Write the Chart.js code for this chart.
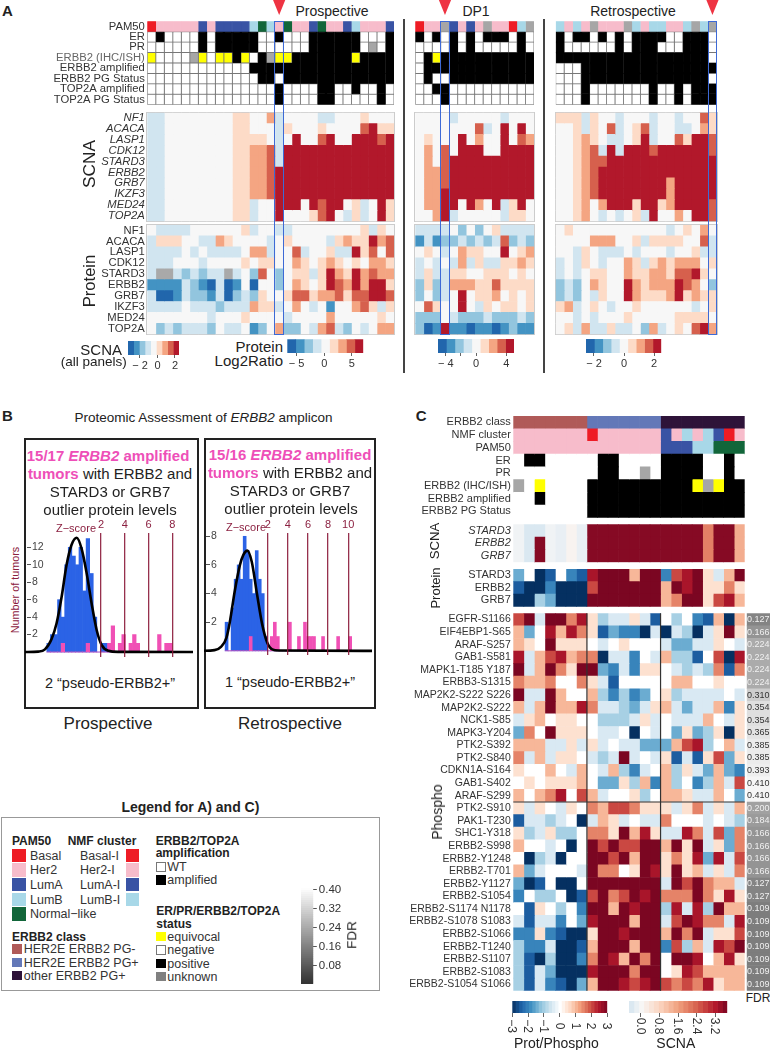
<!DOCTYPE html>
<html>
<head>
<meta charset="utf-8">
<title>ERBB2 proteogenomic figure</title>
<script src="https://cdn.jsdelivr.net/npm/chart.js@4/dist/chart.umd.js"></script>
<style>
  html, body { margin: 0; padding: 0; background: #fff; }
  #page { position: relative; width: 770px; height: 1050px; overflow: hidden; font-family: "Liberation Sans", Arial, sans-serif; color: #222; }
  #page canvas { position: absolute; }
  .t { position: absolute; white-space: nowrap; line-height: 1; }
  .r { position: absolute; box-sizing: border-box; }
  .pk { color: #ee4fb8; font-weight: bold; }
</style>
</head>
<body>
<div id="page"></div>
<script>
// ---------- row and column names ----------
const annotLabels = ["PAM50", "ER", "PR", "ERBB2 (IHC/ISH)", "ERBB2 amplified", "ERBB2 PG Status", "TOP2A amplified", "TOP2A PG Status"];
const scnaGenes = ["NF1", "ACACA", "LASP1", "CDK12", "STARD3", "ERBB2", "GRB7", "IKZF3", "MED24", "TOP2A"];
const annotLabelsC = ["ERBB2 class", "NMF cluster", "PAM50", "ER", "PR", "ERBB2 (IHC/ISH)", "ERBB2 amplified", "ERBB2 PG Status"];
const ampliconGenes = ["STARD3", "ERBB2", "GRB7"];
const phosphoSites = ["EGFR-S1166", "EIF4EBP1-S65", "ARAF-S257", "GAB1-S581", "MAPK1-T185 Y187", "ERBB3-S1315", "MAP2K2-S222 S226", "MAP2K2-S222", "NCK1-S85", "MAPK3-Y204", "PTK2-S392", "PTK2-S840", "CDKN1A-S164", "GAB1-S402", "ARAF-S299", "PTK2-S910", "PAK1-T230", "SHC1-Y318", "ERBB2-S998", "ERBB2-Y1248", "ERBB2-T701", "ERBB2-Y1127", "ERBB2-S1054", "ERBB2-S1174 N1178", "ERBB2-S1078 S1083", "ERBB2-S1066", "ERBB2-T1240", "ERBB2-S1107", "ERBB2-S1083", "ERBB2-S1054 S1066"];

// ---------- panel A, annotation tracks ----------
// PAM50 codes: 0 Basal, 1 Her2, 2 LumA, 3 LumB, 4 Normal-like, 5 unknown
// status codes: 0 negative, 1 positive, 2 equivocal, 3 unknown
const annotPro = [
  [0,1,1,1,1,1,2,1,2,2,2,2,3,4,3,1,4,1,1,2,4,1,1,2,3,1,1,1,2],
  [0,1,0,0,0,0,1,0,1,1,1,1,1,0,0,1,0,0,0,1,1,1,1,1,1,0,0,0,1],
  [0,0,0,0,0,0,1,0,1,1,1,1,1,0,0,0,0,0,0,1,1,1,1,1,1,0,3,0,1],
  [2,0,0,0,0,3,2,0,2,2,1,2,0,1,3,2,2,1,1,1,1,1,1,1,2,1,1,1,1],
  [0,0,0,0,0,0,0,0,0,0,0,0,1,1,1,1,1,1,1,1,1,1,1,1,1,1,1,1,1],
  [0,0,0,0,0,0,0,0,0,0,0,0,0,1,1,0,1,1,1,1,1,1,1,1,1,1,1,1,1],
  [0,0,0,0,0,0,0,0,0,0,0,0,0,0,0,1,0,0,0,0,1,1,0,0,1,0,0,1,0],
  [0,0,0,0,0,0,0,0,0,0,0,0,0,0,0,1,0,0,0,0,1,1,0,0,0,0,0,1,0]
];
const annotDp = [
  [0,1,1,5,2,1,2,1,5,1,1,0,3,5],
  [1,0,1,0,1,0,1,0,1,1,1,0,1,0],
  [0,0,0,0,1,0,1,0,0,0,0,0,1,0],
  [0,1,2,1,1,1,1,1,1,1,1,1,1,1],
  [0,1,1,1,1,1,1,1,1,1,1,1,1,1],
  [0,1,0,0,1,1,1,1,1,1,1,1,1,1],
  [0,0,1,1,0,0,0,0,0,0,0,0,0,0],
  [0,0,0,1,0,0,0,0,0,0,0,0,0,0]
];
const annotRe = [
  [3,1,3,1,5,1,1,1,5,3,1,3,3,1,1,3,5,3,5],
  [1,0,1,1,0,1,0,1,0,1,1,1,1,0,0,1,1,1,0],
  [1,0,0,0,0,0,0,1,0,1,1,1,0,0,0,1,1,1,0],
  [1,1,1,1,1,1,1,1,1,1,1,1,1,1,1,1,1,1,0],
  [0,0,0,1,1,1,1,1,1,1,1,1,1,1,1,1,1,1,1],
  [0,0,0,1,1,1,1,1,1,1,1,1,1,1,1,1,1,1,0],
  [0,0,0,1,0,0,0,0,0,0,0,1,0,0,1,0,1,1,1],
  [0,0,0,1,0,0,0,0,0,0,0,1,0,0,1,0,1,1,1]
];

// ---------- panel A, SCNA bins (-4..4) ----------
const scnaPro = [
  [-1,-1,0,0,0,0,0,0,0,0,1,1,0,0,2,-1,0,0,0,0,-1,-1,0,0,0,1,0,0,0],
  [-1,-1,0,0,0,0,0,0,0,0,1,1,0,0,0,-1,1,0,0,0,1,0,0,0,0,3,4,1,1],
  [-1,-1,0,0,0,0,0,0,0,0,1,1,1,1,0,-1,0,4,0,0,3,4,0,0,4,4,4,3,4],
  [-1,-1,0,0,0,0,0,0,0,0,1,1,2,2,3,-1,4,4,4,4,4,4,4,4,4,4,4,4,4],
  [-1,-1,0,0,0,0,0,0,0,0,1,1,2,2,3,-1,4,4,4,4,4,4,4,4,4,4,4,4,4],
  [-1,-1,0,0,0,0,0,0,0,0,1,1,2,2,3,4,4,4,4,4,4,4,4,4,4,4,4,4,4],
  [-1,-1,0,0,0,0,0,0,0,0,1,1,2,2,3,4,4,4,4,4,4,4,4,4,4,4,4,4,4],
  [-1,-1,0,0,0,0,0,0,0,0,1,1,2,2,3,4,4,4,4,4,4,4,4,4,4,4,4,4,4],
  [-1,-1,0,0,0,0,0,0,0,0,1,1,-1,0,0,4,4,4,0,4,3,4,4,0,1,-1,0,4,1],
  [-1,-1,0,0,0,0,0,0,0,0,1,1,-1,0,0,4,0,0,0,1,3,4,0,-1,1,-1,0,4,1]
];
const scnaDp = [
  [0,0,0,0,-1,0,0,0,0,0,-1,0,0,0],
  [0,0,0,0,0,0,0,3,-1,0,4,0,4,0],
  [0,1,0,0,0,4,0,2,0,0,4,0,3,2],
  [0,2,0,3,0,4,4,4,0,0,4,4,4,4],
  [0,2,0,3,4,4,4,4,4,4,4,4,4,4],
  [0,2,2,3,4,4,4,4,4,4,4,4,4,4],
  [0,2,2,3,4,4,4,4,4,4,4,4,4,4],
  [0,2,2,4,4,4,4,4,4,4,4,4,4,4],
  [0,2,2,4,4,0,4,2,0,4,-1,1,4,0],
  [0,0,2,4,-1,0,0,0,0,0,-1,1,1,0]
];
const scnaRe = [
  [1,1,1,-1,1,0,0,-1,0,0,0,-1,0,0,-1,0,0,3,1],
  [0,0,1,-1,1,0,3,-1,0,1,3,-1,0,0,-1,-1,0,2,1],
  [0,0,1,2,1,0,-1,-1,0,1,4,-1,0,0,3,1,4,4,3],
  [0,0,1,2,3,-1,4,-1,4,4,4,3,4,4,4,4,4,4,3],
  [0,0,1,2,3,3,4,4,4,4,4,4,4,4,4,4,4,4,4],
  [0,0,1,2,3,4,4,4,4,4,4,4,4,4,4,4,4,4,4],
  [0,0,1,2,3,4,4,4,4,4,4,4,4,2,4,4,4,4,4],
  [0,0,1,2,3,4,4,4,4,4,4,4,4,2,4,4,4,4,4],
  [0,0,1,2,0,2,4,4,4,1,4,4,1,2,4,4,4,4,3],
  [0,0,1,2,0,-1,0,-1,0,1,-1,4,0,0,2,0,4,4,3]
];

// ---------- panel A, protein bins (-4..4, 9 = missing) ----------
const protPro = [
  [0,-1,-1,-1,-1,0,0,0,0,0,0,1,-1,0,0,-1,-1,0,0,0,0,0,0,0,0,1,-1,1,0],
  [-1,1,1,1,0,0,-1,-1,2,1,0,0,0,0,-1,0,1,0,0,0,0,-1,1,2,1,1,4,2,3],
  [-1,-1,-1,-1,0,-1,0,-1,-1,-1,-1,0,2,2,-1,0,0,3,-1,0,0,1,-1,-1,4,1,3,0,3],
  [-1,-1,-1,0,0,0,-1,0,0,0,0,1,0,1,1,0,0,2,1,0,1,2,1,0,1,0,2,2,1],
  [-1,9,9,-1,-2,-1,-2,-1,-1,9,-1,0,-2,3,0,-2,0,1,1,-1,1,4,2,1,4,2,3,2,2],
  [-3,-3,-3,-3,-1,-2,-3,-4,-1,-4,-3,0,-4,0,0,-2,0,2,1,0,1,4,3,2,4,2,4,4,1],
  [-1,-4,-4,-3,-1,-2,-2,-3,-1,-4,-2,-1,-2,1,0,0,1,3,3,1,2,2,3,1,3,3,4,4,3],
  [-1,-1,-1,-1,0,-1,-1,-1,-2,-1,-1,-1,2,1,1,-1,0,2,0,-1,0,-3,0,0,2,3,1,-1,1],
  [0,0,0,0,0,0,0,-1,0,0,0,1,0,0,0,0,-1,0,0,0,0,2,0,0,0,0,0,1,0],
  [0,-2,-1,-2,-1,-1,-1,-2,0,-1,-1,0,-3,-2,0,2,-2,-2,0,-1,2,3,-1,-2,0,-1,0,2,2]
];
const protDp = [
  [-1,-1,-1,-1,0,-2,0,-2,0,1,-1,-1,-1,-1],
  [-3,-1,-3,-2,-2,-1,-2,-1,-2,-1,3,-2,-1,-2],
  [0,1,0,-1,0,2,1,1,0,0,4,0,1,2],
  [-1,0,-1,0,-1,2,-1,1,-1,-1,1,1,2,1],
  [-1,1,-1,-1,1,1,0,0,1,1,1,0,1,0],
  [-2,1,-2,-1,2,2,2,1,1,3,1,1,1,1],
  [-2,0,-2,-1,0,4,0,1,1,2,0,1,0,1],
  [0,3,1,0,0,4,0,-1,1,0,1,1,0,1],
  [-2,-2,-2,0,-1,-2,-2,-2,-1,-2,-2,-2,-1,-2],
  [-2,-4,-3,4,-3,-3,-4,-3,-3,-4,-3,-2,-3,-3]
];
const protRe = [
  [0,1,0,0,0,0,0,0,0,0,0,0,0,-1,0,1,0,2,0],
  [0,0,0,0,2,2,2,0,0,1,-1,1,1,1,1,0,0,3,-1],
  [0,0,-1,1,0,-1,-1,-1,0,-1,0,0,0,-1,0,0,1,-1,-1],
  [-1,0,-1,1,0,-1,0,0,2,1,-1,1,2,1,2,2,2,0,1],
  [-1,0,-1,0,1,1,0,0,2,1,1,2,2,1,3,3,4,1,0],
  [-2,-1,-2,0,2,1,0,0,4,2,1,2,2,2,4,3,2,0,-2],
  [-2,-1,-2,0,-1,1,0,0,4,2,1,1,1,2,4,1,2,1,1],
  [1,2,-1,0,1,0,-1,0,0,1,0,0,0,0,0,0,-1,0,1],
  [0,0,-1,0,-1,0,0,0,1,0,0,0,0,0,1,1,1,1,0],
  [0,1,-1,2,-1,-1,1,-1,-1,0,-2,2,-1,0,1,0,3,4,2]
];

// ---------- panel B, histogram counts per 0.3 z-score bin ----------
const proZBins = [-2.4,-2.1,-1.8,-1.5,-1.2,-0.9,-0.6,-0.3,0,0.3,0.6,0.9,1.2,1.5,1.8,2.1,2.4,2.7,3,3.3,3.6,3.9,4.2,4.5,4.8,5.1,5.4,5.7,6,6.3,6.6,6.9,7.2,7.5,7.8];
const proBlue = [1,2,2,6,4,10,12,11,10,12,7,13,9,4,0,1,1,0,0,0,0,0,0,0,0,0,0,0,0,0,0,0,0,0,0];
const proPink = [0,0,0,0,1,0,0,0,0,0,0,1,0,0,0,0,0,1,3,0,1,2,0,1,2,1,0,0,0,0,0,2,0,1,1];
const proCurveZ = [-4.4,-3.27,-2.71,-2.15,-1.73,-1.31,-0.89,-0.47,-0.04,0.38,0.8,1.22,1.64,2.06,2.62,3.46,9.76];
const proCurveY = [0,0.05,0.3,1.5,3.3,6.3,10,12.3,13.1,11.8,9,5.5,2.5,0.8,0.15,0.02,0];
const reZBins = [-2.1,-1.8,-1.5,-1.2,-0.9,-0.6,-0.3,0,0.3,0.6,0.9,1.2,1.5,1.8,2.1,2.4,2.7,3,3.3,3.6,3.9,4.2,4.5,4.8,5.1,5.4,5.7,6,6.3,6.6,6.9,7.2,7.5,7.8,8.1,8.4,8.7,9,9.3,9.6,9.9,10.2];
const reBlue = [2,0,3,5,6,5,8,7,5,4,7,5,4,1,0,0,0,0,0,0,0,0,0,0,0,0,0,0,0,0,0,0,0,0,0,0,0,0,0,0,0,0];
const rePink = [0,0,0,0,0,0,0,0,1,0,0,0,0,0,0,1,2,1,0,0,0,2,0,0,1,0,2,1,1,1,0,0,1,0,0,0,0,1,0,0,0,1];
const reCurveZ = [-4.6,-3.3,-2.63,-2.12,-1.78,-1.28,-0.77,-0.43,-0.03,0.41,0.92,1.43,1.93,2.44,3.11,12.4];
const reCurveY = [0,0.05,0.3,0.9,2,4.2,6,6.7,7,6.2,4,1.9,0.6,0.1,0.02,0];

// ---------- panel C, annotation tracks ----------
// class codes: 0 HER2E PG-, 1 HER2E PG+, 2 other PG+
const annotC = [
  [0,0,0,0,0,0,0,1,1,1,1,1,1,1,2,2,2,2,2,2,2,2],
  [1,1,1,1,1,1,1,0,1,1,1,1,1,1,2,1,3,1,3,2,0,1],
  [1,1,1,1,1,1,1,1,1,1,1,1,1,1,2,2,2,3,3,4,4,4],
  [0,1,1,0,0,0,0,0,1,1,0,0,0,0,1,1,1,1,0,0,1,0],
  [0,0,0,0,0,0,0,0,1,1,0,0,3,0,1,1,1,1,0,0,1,0],
  [3,0,2,0,0,0,0,1,1,1,1,1,1,1,1,1,1,2,3,2,1,1],
  [0,0,1,0,0,0,0,1,1,1,1,1,1,1,1,1,1,1,1,1,1,1],
  [0,0,0,0,0,0,0,1,1,1,1,1,1,1,1,1,1,1,1,1,1,1]
];
const scnaC = [
  [-0.1,-0.4,-0.4,-0.1,-0.2,0.1,-0.2,3.6,3.6,3.6,3.6,3.6,3.6,3.6,3.6,3.6,3.6,3.6,2,3.6,3.6,1.4],
  [-0.1,-0.4,3.6,-0.1,-0.2,0.1,-0.2,3.6,3.6,3.6,3.6,3.6,3.6,3.6,3.6,3.6,3.6,3.6,2,3.6,3.6,1.4],
  [-0.1,-0.4,3.6,-0.1,-0.2,0.1,-0.2,3.6,3.6,3.6,3.6,3.6,3.6,3.6,3.6,3.6,3.6,3.6,2,3.6,3.6,1.4]
];
// half-unit levels: -6 is -3, 6 is +3
const protC = [
  [-3,0,-6,-5,0,-4,-5,5,6,6,6,2,6,6,-4,4,5,6,1,-1,2,6],
  [-5,-6,-6,-4,-6,-6,-6,4,6,6,6,6,6,6,2,6,5,6,1,1,3,1],
  [-6,-6,-2,-3,-6,-6,-6,6,6,6,6,6,6,6,2,3,6,6,1,4,5,2]
];
const phosphoC = [
  [4,6,-1,6,6,3,5,1,-2,-1,-1,1,-1,-5,0,-2,0,-4,-5,2,-6,2],
  [2,-3,0,5,2,5,3,1,-5,-3,-4,-4,-6,-1,-6,-1,-2,-6,-1,1,6,1],
  [2,1,0,6,1,1,1,0,-1,0,1,0,0,0,-1,-3,-3,-1,-1,1,0,-1],
  [5,-1,2,4,5,2,3,3,-6,-1,-1,-4,0,-1,2,-2,-2,-5,0,4,-6,5],
  [6,-1,2,6,3,1,6,6,-3,-4,-1,-4,1,1,0,-1,-2,-1,-2,3,-5,3],
  [3,2,2,3,0,0,3,1,-1,-5,0,0,0,0,0,2,2,0,0,1,0,0],
  [6,-1,-1,6,2,0,0,2,-2,-4,-2,-4,-3,0,1,-2,-1,-1,-1,-1,0,-1],
  [2,-1,2,6,2,2,5,3,-1,-1,-2,-3,-1,1,2,-1,-3,-1,-1,2,-4,1],
  [-1,1,2,0,1,1,0,0,-2,-2,-2,-1,1,-1,0,-1,-1,-1,2,0,-1,1],
  [-3,3,0,6,1,1,1,0,-1,-1,0,-6,0,-1,0,-3,1,-3,-2,1,-6,1],
  [2,2,2,-1,-1,1,-1,1,-1,0,-1,-1,-3,-3,-3,2,4,5,-2,0,2,-1],
  [3,-1,2,-1,1,1,0,-1,-2,-1,6,-1,0,-1,1,-5,-1,-5,1,4,-3,1],
  [1,0,0,2,0,-1,2,0,-1,2,-2,-4,-1,0,2,-2,1,-1,-3,2,-3,-4],
  [0,1,0,1,1,1,2,0,-3,-3,1,-2,2,-4,2,-2,0,-4,-2,2,-1,4],
  [2,0,2,3,5,0,4,2,-1,0,0,1,-2,0,2,2,1,-1,-1,2,0,-3],
  [1,-1,1,0,-1,1,0,3,2,4,4,3,1,1,1,-1,1,3,-1,1,-1,2],
  [-5,-1,-1,-2,-1,0,-6,-1,2,1,-1,0,-1,-1,3,0,0,0,-1,0,-1,-2],
  [1,-2,-1,1,-2,-2,0,3,3,1,6,2,5,1,-1,-1,5,3,-1,4,-3,3],
  [2,0,0,-1,0,-6,0,6,4,6,4,4,6,6,2,6,1,6,-1,1,-3,3],
  [0,-6,-2,-1,-6,0,0,6,6,4,6,2,6,6,1,3,1,5,-3,5,-1,4],
  [2,-3,-1,0,0,0,-1,6,3,3,0,1,6,5,1,6,1,2,-1,1,-1,3],
  [-3,-6,-5,0,-6,-6,0,6,6,6,6,6,6,6,-1,6,4,6,3,2,2,-1],
  [-4,0,-2,-2,0,-6,-5,4,6,3,4,6,5,6,3,3,3,6,3,1,5,1],
  [0,-5,1,0,-2,0,-4,6,6,2,6,5,6,6,-2,5,-1,5,-2,6,2,2],
  [-1,-5,-1,-1,-4,0,-3,5,6,6,6,2,6,6,-1,4,6,5,3,3,-1,5],
  [-4,-4,1,-4,-5,-6,-6,1,6,6,5,6,6,6,2,6,3,6,-1,1,1,4],
  [-2,-4,-4,-1,-6,-6,-5,2,6,6,6,2,6,6,-4,4,-2,2,-1,5,4,6],
  [-2,-5,-6,-2,-6,-6,-4,3,6,5,2,6,3,6,0,6,6,5,0,2,5,1],
  [-2,-5,-1,-3,-6,-6,-6,5,6,6,6,3,6,6,0,1,5,4,2,2,2,2],
  [-2,-5,-1,-4,-5,-6,-3,2,6,6,5,4,5,6,4,3,4,3,5,1,2,2]
];
const fdrValues = [0.127,0.166,0.224,0.224,0.224,0.224,0.310,0.354,0.354,0.365,0.385,0.385,0.393,0.410,0.410,0.200,0.184,0.166,0.166,0.166,0.166,0.127,0.127,0.109,0.109,0.109,0.109,0.109,0.109,0.109];

// ---------- tick labels ----------
const scnaBarTicks = [-2, 0, 2];
const proteinBarTicks = [-5, 0, 5];
const dpBarTicks = [-4, -2, 0, 4];
const reBarTicks = [-2, 0, 2];
const protScaleTicks = [-3, -2, -1, 0, 1, 2, 3];
const scnaScaleTicks = [0, 0.8, 1.6, 2.4, 3.2];
const fdrScaleTicks = [0.08, 0.16, 0.24, 0.32, 0.40];

// ---------- colours ----------
const binColors = { "-4": "#2166ac", "-3": "#4393c3", "-2": "#92c5de", "-1": "#d1e5f0", "0": "#f7f7f7", "1": "#fddbc7", "2": "#f4a582", "3": "#d6604d", "4": "#b2182b", "9": "#a9a9a9" };
const binOrder = [-4, -3, -2, -1, 0, 1, 2, 3, 4];
const pamColors = ["#ee1c25", "#f7bccb", "#3953a4", "#a8d8e8", "#12663a", "#a6a6a6"];
const statusColors = ["#ffffff", "#000000", "#ffff00", "#a6a6a6"];
const classColors = ["#b05a58", "#6378b8", "#2e1339"];
const protStops = [[-3, "#053061"], [-2.4, "#2166ac"], [-1.8, "#4393c3"], [-1.2, "#92c5de"], [-0.6, "#d1e5f0"], [0, "#ffffff"], [0.6, "#fddbc7"], [1.2, "#f4a582"], [1.8, "#d6604d"], [2.4, "#b2182b"], [3, "#7b0622"]];
const scnaStops = [[-0.5, "#d3e4ef"], [0, "#f7f7f7"], [0.8, "#fbd5c0"], [1.6, "#f0a07e"], [2.4, "#d6604d"], [3.2, "#b2182b"], [3.7, "#7b0622"]];
const DARK_RED = "#8b2040";
const PINK = "#f050b5";
const BLUE = "#2b63e6";
const HILITE = "#3d6ad6";

// read a colour out of a stop table for a value
function ramp(stops, v) {
  if (v <= stops[0][0]) return stops[0][1];
  for (let i = 1; i < stops.length; i++) {
    if (v <= stops[i][0]) {
      const t = (v - stops[i - 1][0]) / (stops[i][0] - stops[i - 1][0]);
      const a = stops[i - 1][1], b = stops[i][1];
      const ch = (s, k) => parseInt(s.substr(1 + k * 2, 2), 16);
      const c = [0, 1, 2].map((k) => Math.round(ch(a, k) + (ch(b, k) - ch(a, k)) * t));
      return "rgb(" + c.join(",") + ")";
    }
  }
  return stops[stops.length - 1][1];
}
function fdrGrey(v) {
  const g = Math.round(125 + ((v - 0.109) * 120) / 0.301);
  return "rgb(" + g + "," + g + "," + g + ")";
}

// ---------- page helpers ----------
const page = document.getElementById("page");
Chart.defaults.font.family = '"Liberation Sans", Arial, sans-serif';
Chart.defaults.animation = false;
Chart.defaults.responsive = false;
Chart.defaults.events = [];
Chart.defaults.plugins.legend.display = false;
Chart.defaults.plugins.tooltip.enabled = false;

// keep tick labels from shrinking the plot area
function noPad(s) {
  s.paddingTop = s.paddingBottom = s.paddingLeft = s.paddingRight = 0;
}

function text(html, x, y, o) {
  o = o || {};
  const el = document.createElement("div");
  el.className = "t";
  el.innerHTML = html;
  el.style.left = x + "px";
  el.style.top = y + "px";
  el.style.fontSize = (o.size || 12) + "px";
  if (o.bold) el.style.fontWeight = "bold";
  if (o.italic) el.style.fontStyle = "italic";
  if (o.color) el.style.color = o.color;
  const tx = o.align === "center" ? "-50%" : o.align === "right" ? "-100%" : "0";
  el.style.transform = "translate(" + tx + ",-50%)" + (o.rotate ? " rotate(" + o.rotate + "deg)" : "");
  page.appendChild(el);
}
function box(x, y, w, h, css) {
  const el = document.createElement("div");
  el.className = "r";
  el.style.left = x + "px";
  el.style.top = y + "px";
  el.style.width = w + "px";
  el.style.height = h + "px";
  el.style.cssText += css || "";
  page.appendChild(el);
  return el;
}
function newCanvas(left, top, w, h) {
  const c = document.createElement("canvas");
  c.width = w;
  c.height = h;
  c.style.left = left + "px";
  c.style.top = top + "px";
  page.appendChild(c);
  return c;
}

// a heatmap is horizontal floating bars, one dataset per column
function heatmap(o) {
  const labelW = o.labelW || 0;
  const left = Math.floor(o.x - labelW), top = Math.floor(o.y);
  const cw = Math.ceil(o.x + o.w) - left, ch = Math.ceil(o.y + o.h) - top;
  const ncol = o.rows[0].length;
  const datasets = [];
  for (let c = 0; c < ncol; c++) {
    const fills = o.rows.map((r, i) => o.color(r[c], i));
    datasets.push({
      data: o.rows.map(() => [c, c + 1]),
      backgroundColor: fills,
      borderColor: o.border ? o.rows.map((r, i) => o.border(r[c], i, fills[i])) : undefined,
      borderWidth: o.border ? 0.8 : 0,
      borderSkipped: false,
      barPercentage: 1,
      categoryPercentage: 1,
      grouped: false
    });
  }
  return new Chart(newCanvas(left, top, cw, ch), {
    type: "bar",
    data: { labels: o.labels, datasets: datasets },
    plugins: o.plugins || [],
    options: {
      indexAxis: "y",
      layout: { autoPadding: false, padding: { top: o.y - top, bottom: top + ch - o.y - o.h, right: left + cw - o.x - o.w, left: 0 } },
      scales: {
        x: { type: "linear", min: 0, max: ncol, display: false },
        y: {
          grid: { display: false, drawTicks: false },
          border: { display: false },
          afterFit: (s) => { s.width = o.x - left; noPad(s); },
          ticks: {
            display: labelW > 0,
            autoSkip: false,
            padding: 2.5,
            color: o.tickColor || "#333",
            font: { size: o.fontSize || 11.25, style: o.italic ? "italic" : "normal" }
          }
        }
      }
    }
  });
}

// horizontal colour bar with a tick axis underneath
function colorbar(o) {
  const pad = 20, axisH = 22;
  const left = Math.floor(o.x) - pad, top = Math.floor(o.y);
  const cw = Math.ceil(o.w) + 2 * pad, ch = Math.ceil(o.y + o.h) - top + axisH;
  const n = o.colors.length, step = (o.max - o.min) / n;
  const datasets = o.colors.map((col, i) => ({
    data: [[o.min + i * step, o.min + (i + 1) * step]],
    backgroundColor: col,
    barPercentage: 1,
    categoryPercentage: 1,
    grouped: false
  }));
  return new Chart(newCanvas(left, top, cw, ch), {
    type: "bar",
    data: { labels: ["bar"], datasets: datasets },
    options: {
      indexAxis: "y",
      layout: { autoPadding: false, padding: { left: o.x - left, right: left + cw - o.x - o.w, top: o.y - top, bottom: 0 } },
      scales: {
        y: { display: false },
        x: {
          type: "linear",
          min: o.min,
          max: o.max,
          border: { display: false },
          grid: { drawOnChartArea: false, tickLength: o.tickLength || 3, color: "#666" },
          afterBuildTicks: (s) => { s.ticks = o.ticks.map((v) => ({ value: v })); },
          afterFit: (s) => { s.height = axisH; noPad(s); },
          ticks: {
            display: !o.rotated,
            autoSkip: false,
            maxRotation: 0,
            padding: 1,
            color: "#333",
            font: { size: 11 },
            callback: o.label
          }
        }
      }
    }
  });
}

// histogram with z-score gridlines and a fitted curve on top
function histogram(o) {
  const toXY = (xs, ys) => xs.map((x, i) => ({ x: x, y: ys[i] }));
  const barStyle = { type: "bar", barThickness: o.barW, grouped: false };
  const top = 519;
  new Chart(newCanvas(o.left, top, o.width, o.height), {
    data: {
      datasets: [
        Object.assign({ data: toXY(o.bins, o.blue), backgroundColor: BLUE, order: 3 }, barStyle),
        Object.assign({ data: toXY(o.bins, o.pink), backgroundColor: PINK, order: 2 }, barStyle),
        { type: "line", data: toXY(o.curveX, o.curveY), borderColor: "#000", borderWidth: 2.6, pointRadius: 0, cubicInterpolationMode: "monotone", clip: false, order: 1 }
      ]
    },
    options: {
      layout: { autoPadding: false },
      scales: {
        x: {
          type: "linear",
          position: "top",
          offset: false,
          min: o.xMin,
          max: o.xMax,
          border: { display: false },
          grid: { offset: false, z: 1, color: "rgba(139,26,58,0.9)", lineWidth: 1.3, drawTicks: false },
          afterBuildTicks: (s) => { s.ticks = o.zTicks.map((v) => ({ value: v })); },
          afterFit: (s) => { s.height = 14; noPad(s); },
          ticks: { autoSkip: false, maxRotation: 0, padding: 1, color: DARK_RED, font: { size: 11 } }
        },
        y: {
          type: "linear",
          min: o.yMin,
          max: o.yMax,
          border: { display: false },
          grid: { drawOnChartArea: false, tickLength: 4, color: "#555" },
          afterBuildTicks: (s) => { s.ticks = o.yTicks.map((v) => ({ value: v })); },
          afterFit: (s) => { s.width = 6; noPad(s); },
          ticks: { mirror: true, padding: 1, autoSkip: false, color: "#444", font: { size: 10.5 } }
        }
      }
    }
  });
}

// ---------- panel A ----------
const annotColor = (v, r) => (r === 0 ? pamColors[v] : statusColors[v]);
const annotBorder = (v, r, fill) => (r === 0 || v === 1 ? fill : "#777");
const scnaColor = (v) => binColors[v];

const panelsA = [
  { x: 147.3, w: 246.7, annot: annotPro, scna: scnaPro, prot: protPro, labelW: 100, hi: 15 },
  { x: 415.3, w: 118.7, annot: annotDp, scna: scnaDp, prot: protDp, labelW: 0, hi: 3 },
  { x: 555.7, w: 161, annot: annotRe, scna: scnaRe, prot: protRe, labelW: 0, hi: 18 }
];
panelsA.forEach((p) => {
  box(p.x - 1, 111.7, p.w + 2, 110.6, "border:1px solid #ccc;");
  box(p.x - 1, 224, p.w + 2, 111.3, "border:1px solid #ccc;");
  const ac = heatmap({ rows: p.annot, labels: annotLabels, x: p.x, y: 21.3, w: p.w, h: 83.4, labelW: p.labelW, color: annotColor, border: annotBorder, tickColor: (c) => (c.index === 3 ? "#666" : "#333") });
  heatmap({ rows: p.scna, labels: scnaGenes, x: p.x, y: 112.7, w: p.w, h: 108.6, labelW: p.labelW, color: scnaColor, italic: true });
  heatmap({ rows: p.prot, labels: scnaGenes, x: p.x, y: 225, w: p.w, h: 109.3, labelW: p.labelW, color: scnaColor });
  // the highlighted sample follows the column of its own scale
  const canvasLeft = parseFloat(ac.canvas.style.left);
  const hx = canvasLeft + ac.scales.x.getPixelForValue(p.hi);
  const hw = ac.scales.x.getPixelForValue(p.hi + 1) - ac.scales.x.getPixelForValue(p.hi);
  box(hx - 0.5, 21, hw + 1, 314, "border:1.5px solid " + HILITE + ";");
  box(hx + hw / 2 - 6.5, -1, 13, 16, "background:#ee3342;clip-path:polygon(0 0,100% 0,50% 100%);");
});

box(403.3, 19, 1.5, 354, "background:#444;");
box(543.3, 19, 1.5, 354, "background:#444;");

text("A", 2, 10, { size: 15, bold: true });
text("Prospective", 332, 11, { size: 14, align: "center" });
text("DP1", 476, 11, { size: 14, align: "center" });
text("Retrospective", 633, 11, { size: 14, align: "center" });
text("SCNA", 90, 164, { size: 17.3, align: "center", rotate: -90 });
text("Protein", 90, 281, { size: 16.6, align: "center", rotate: -90 });
text("SCNA", 122, 349, { size: 15, align: "right" });
text("(all panels)", 126.7, 362, { size: 13.5, align: "right" });
text("Protein", 283, 346, { size: 15, align: "right" });
text("Log2Ratio", 283, 360, { size: 15, align: "right" });

const minusLabel = (v) => (v < 0 ? "\u2212 " + Math.abs(v) : "" + v);
const bins9 = binOrder.map((b) => binColors[b]);
colorbar({ x: 128, y: 341, w: 51, h: 13.3, min: -3.37, max: 2.46, colors: bins9, ticks: scnaBarTicks, label: minusLabel });
colorbar({ x: 287.3, y: 339.3, w: 76, h: 13, min: -6.7, max: 7.1, colors: bins9, ticks: proteinBarTicks, label: minusLabel });
colorbar({ x: 438, y: 339, w: 76, h: 13.3, min: -5.02, max: 5.02, colors: bins9, ticks: dpBarTicks, label: (v) => (v === -2 ? "" : minusLabel(v)) });
colorbar({ x: 586, y: 339, w: 75.3, h: 13.3, min: -2.53, max: 2.48, colors: bins9, ticks: reBarTicks, label: minusLabel });

// ---------- panel B ----------
text("B", 2, 415, { size: 15, bold: true });
text("Proteomic Assessment of <i>ERBB2</i> amplicon", 203.5, 418, { size: 13.5, align: "center" });
box(24, 438, 174.5, 270.5, "border:2px solid #222;");
box(204, 438, 171.5, 270.5, "border:2px solid #222;");

histogram({ left: 25, width: 168, height: 138, barW: 3.57, bins: proZBins, blue: proBlue, pink: proPink, curveX: proCurveZ, curveY: proCurveY, xMin: -3.88, xMax: 9.73, yMin: -0.57, yMax: 13.64, zTicks: [2, 4, 6, 8], yTicks: [2, 4, 6, 8, 10, 12] });
histogram({ left: 204, width: 168, height: 136, barW: 2.96, bins: reZBins, blue: reBlue, pink: rePink, curveX: reCurveZ, curveY: reCurveY, xMin: -3.75, xMax: 12.37, yMin: -0.29, yMax: 8.23, zTicks: [2, 4, 6, 8, 10], yTicks: [2, 4, 6, 8] });

text("Z\u2212score", 76, 527.5, { size: 11, color: DARK_RED, align: "center" });
text("Z\u2212score", 246, 526.5, { size: 11, color: DARK_RED, align: "center" });
text("Number of tumors", 14.7, 590, { size: 10.8, color: DARK_RED, align: "center", rotate: -90 });

text('<span class="pk">15/17 <i>ERBB2</i> amplified</span>', 108, 455, { size: 15, align: "center" });
text('<span class="pk">tumors</span> with ERBB2 and', 110, 473, { size: 15, align: "center" });
text("STARD3 or GRB7", 110, 491, { size: 15, align: "center" });
text("outlier protein levels", 110, 509, { size: 15, align: "center" });
text('<span class="pk">15/16 <i>ERBB2</i> amplified</span>', 290, 454, { size: 15, align: "center" });
text('<span class="pk">tumors</span> with ERBB2 and', 290, 472, { size: 15, align: "center" });
text("STARD3 or GRB7", 290, 490, { size: 15, align: "center" });
text("outlier protein levels", 291, 508, { size: 15, align: "center" });
text("2 \u201cpseudo-ERBB2+\u201d", 110, 683, { size: 14.5, align: "center" });
text("1 \u201cpseudo-ERBB2+\u201d", 290, 682, { size: 14.5, align: "center" });
text("Prospective", 108, 723, { size: 17, align: "center" });
text("Retrospective", 290, 723, { size: 17, align: "center" });

// ---------- legend box ----------
const pamNames = ["Basal", "Her2", "LumA", "LumB", "Normal\u2212like"];
const nmfNames = ["Basal-I", "Her2-I", "LumA-I", "LumB-I"];
const classNames = ["HER2E ERBB2 PG-", "HER2E ERBB2 PG+", "other ERBB2 PG+"];
const statusNames = ["equivocal", "negative", "positive", "unknown"];
const statusSwatches = ["#ffff00", "#ffffff", "#000000", "#808080"];

text("Legend for A) and C)", 190.4, 807, { size: 14, bold: true, align: "center" });
box(0.7, 816.7, 379.5, 174, "border:1px solid #999;");
text("PAM50", 12, 840.7, { size: 12, bold: true });
text("NMF cluster", 67.7, 840.7, { size: 12, bold: true });
pamNames.forEach((n, i) => {
  const y = 848.7 + i * 14.6;
  box(12, y, 13.7, 13.5, "background:" + pamColors[i] + ";");
  text(n, 30, y + 7, { size: 12.5, color: "#333" });
});
nmfNames.forEach((n, i) => {
  const y = 848.7 + i * 14.6;
  box(125.7, y, 13.5, 13.5, "background:" + pamColors[i] + ";");
  text(n, 80, y + 7, { size: 12.5, color: "#333" });
});
text("ERBB2 class", 12, 936.7, { size: 12, bold: true });
classNames.forEach((n, i) => {
  const y = 944.3 + i * 13.2;
  box(12, y, 10, 9.6, "background:" + classColors[i] + ";");
  text(n, 23.7, y + 5, { size: 12.5, color: "#333" });
});
text("ERBB2/TOP2A", 155.7, 840.7, { size: 12, bold: true });
text("amplification", 155.7, 853, { size: 12, bold: true });
box(155.7, 861.7, 10.2, 10, "border:1px solid #777;");
box(155.7, 875, 10.2, 10, "background:#000;");
text("WT", 167.3, 866.7, { size: 12.5, color: "#333" });
text("amplified", 167.3, 880, { size: 12.5, color: "#333" });
text("ER/PR/ERBB2/TOP2A", 156.3, 911.3, { size: 12, bold: true });
text("status", 156.3, 923.7, { size: 12, bold: true });
statusNames.forEach((n, i) => {
  const y = 931.7 + i * 13.4;
  box(155.9, y, 10.2, 9.6, "background:" + statusSwatches[i] + ";" + (i === 1 ? "border:1px solid #777;" : ""));
  text(n, 167.3, y + 5, { size: 12.5, color: "#333" });
});

// FDR gradient bar, vertical
const fdrBins = [];
for (let i = 0; i < 48; i++) fdrBins.push(i);
new Chart(newCanvas(301, 880, 48, 106), {
  type: "bar",
  data: {
    labels: ["FDR"],
    datasets: fdrBins.map((i) => {
      const step = (0.407 - 0.004) / 48;
      const g = Math.round(50 + (205 * (i + 0.5)) / 48);
      return { data: [[0.004 + i * step, 0.004 + (i + 1) * step]], backgroundColor: "rgb(" + g + "," + g + "," + g + ")", barPercentage: 1, categoryPercentage: 1, grouped: false };
    })
  },
  options: {
    layout: { autoPadding: false, padding: { top: 8.3, bottom: 2 } },
    scales: {
      x: { display: false },
      y: {
        position: "right",
        min: 0.004,
        max: 0.407,
        border: { display: false },
        grid: { drawOnChartArea: false, tickLength: 3.5, color: "#555" },
        afterBuildTicks: (s) => { s.ticks = fdrScaleTicks.map((v) => ({ value: v })); },
        afterFit: (s) => { s.width = 35.7; noPad(s); },
        ticks: { padding: 2, color: "#333", font: { size: 11.5 }, callback: (v) => v.toFixed(2) }
      }
    }
  }
});
text("FDR", 351.7, 935, { size: 13.5, align: "center", rotate: -90 });

// ---------- panel C ----------
const cX = 513.3, cW = 231.4;
const annotCColor = (v, r) => (r === 0 ? classColors[v] : r < 3 ? pamColors[v] : statusColors[v]);
const levelColor = (v) => ramp(protStops, v / 2);
const scnaCColor = (v) => ramp(scnaStops, v);

text("C", 415.7, 415, { size: 15, bold: true });
heatmap({ rows: annotC, labels: annotLabelsC, x: cX, y: 416, w: cW, h: 101.7, labelW: 105, color: annotCColor, fontSize: 11 });
heatmap({ rows: scnaC, labels: ampliconGenes, x: cX, y: 524.3, w: cW, h: 38, labelW: 70, color: scnaCColor, italic: true, fontSize: 11 });
heatmap({ rows: protC, labels: ampliconGenes, x: cX, y: 569, w: cW, h: 37.7, labelW: 70, color: levelColor, fontSize: 11 });

// black lines between the ERBB2 classes and between the two phospho blocks
const dividers = {
  id: "dividers",
  afterDatasetsDraw(chart) {
    const { ctx, chartArea: a, scales } = chart;
    ctx.save();
    ctx.strokeStyle = "#333";
    ctx.lineWidth = 1.2;
    ctx.beginPath();
    [7, 14].forEach((c) => {
      const px = scales.x.getPixelForValue(c);
      ctx.moveTo(px, a.top);
      ctx.lineTo(px, a.bottom);
    });
    const py = (scales.y.getPixelForTick(14) + scales.y.getPixelForTick(15)) / 2;
    ctx.moveTo(a.left, py);
    ctx.lineTo(a.right, py);
    ctx.stroke();
    ctx.restore();
  }
};
heatmap({ rows: phosphoC, labels: phosphoSites, x: cX, y: 613.3, w: cW, h: 377.4, labelW: 108, color: levelColor, fontSize: 10.5, plugins: [dividers] });

// FDR value written on each cell of the last column
const fdrText = {
  id: "fdrText",
  afterDatasetsDraw(chart) {
    const { ctx } = chart;
    const cx = (chart.chartArea.left + chart.chartArea.right) / 2;
    ctx.save();
    ctx.font = '9px "Liberation Sans"';
    ctx.textAlign = "center";
    ctx.textBaseline = "middle";
    fdrValues.forEach((v, i) => {
      ctx.fillStyle = v < 0.3 ? "#f0f0f0" : "#333";
      ctx.fillText(v.toFixed(3), cx, chart.scales.y.getPixelForTick(i));
    });
    ctx.restore();
  }
};
heatmap({ rows: fdrValues.map((v) => [v]), labels: phosphoSites, x: 746.7, y: 613.3, w: 23.3, h: 377.4, color: fdrGrey, plugins: [fdrText] });
text("FDR", 758, 997.7, { size: 12, align: "center" });

text("SCNA", 435, 541, { size: 13.2, align: "center", rotate: -90 });
text("Protein", 435, 588, { size: 13, align: "center", rotate: -90 });
text("Phospho", 436.7, 812, { size: 14, align: "center", rotate: -90 });

// rotated scale labels are placed from the scale itself
function rotatedTicks(chart, labelFn) {
  const left = parseFloat(chart.canvas.style.left);
  chart.scales.x.ticks.forEach((t) => {
    text(labelFn(t.value), left + chart.scales.x.getPixelForValue(t.value), 1026, { size: 12, align: "center", rotate: 90, color: "#333" });
  });
}
const protBinColors = [], scnaBinColors = [];
for (let i = 0; i < 29; i++) protBinColors.push(ramp(protStops, -3 + ((i + 0.5) * 6) / 29));
for (let i = 0; i < 20; i++) scnaBinColors.push(ramp(scnaStops, -0.5 + ((i + 0.5) * 4.21) / 20));
const protBar = colorbar({ x: 512.3, y: 1001, w: 95, h: 11.3, min: -3, max: 3, colors: protBinColors, ticks: protScaleTicks, rotated: true, tickLength: 4 });
const scnaBar = colorbar({ x: 629, y: 1001, w: 98.3, h: 11.3, min: -0.5, max: 3.71, colors: scnaBinColors, ticks: scnaScaleTicks, rotated: true, tickLength: 4 });
rotatedTicks(protBar, (v) => (v < 0 ? "\u2212" + Math.abs(v) : "" + v));
rotatedTicks(scnaBar, (v) => v.toFixed(1));
text("Prot/Phospho", 556.3, 1043, { size: 14, align: "center" });
text("SCNA", 675.8, 1043, { size: 14, align: "center" });
</script>
</body>
</html>
